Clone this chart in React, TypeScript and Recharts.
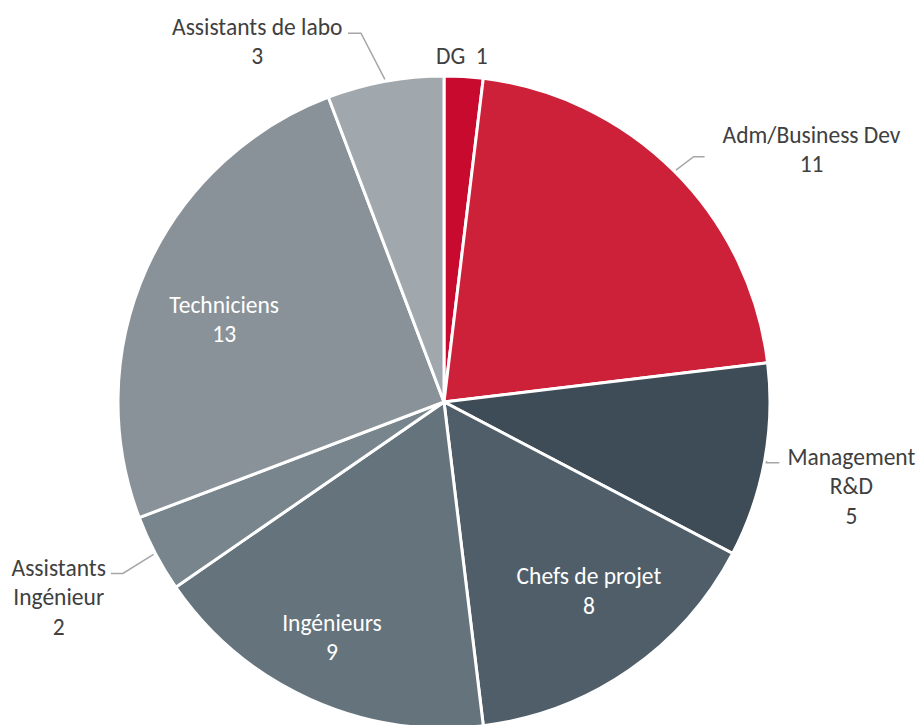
import { PieChart, Pie, Cell } from "recharts";

const categories = [
  "DG",
  "Adm/Business Dev",
  "Management R&D",
  "Chefs de projet",
  "Ingénieurs",
  "Assistants Ingénieur",
  "Techniciens",
  "Assistants de labo",
];
const headcount = [1, 11, 5, 8, 9, 2, 13, 3];
// how each label is broken over lines
const labelLines = [
  ["DG\u00a0\u00a01"],
  ["Adm/Business Dev", "11"],
  ["Management", "R&D", "5"],
  ["Chefs de projet", "8"],
  ["Ingénieurs", "9"],
  ["Assistants", "Ingénieur", "2"],
  ["Techniciens", "13"],
  ["Assistants de labo", "3"],
];

const colors = [
  "#C80A2E",
  "#CC2139",
  "#3E4C57",
  "#4F5E68",
  "#65737C",
  "#78858D",
  "#8A9299",
  "#A0A7AD",
];

// label placement: angle shift (deg), distance from outer edge (px), inside fraction
type Place = {
  inside?: number;
  dA: number;
  dR?: number;
  leader?: { dA: number; dR: number; h: number };
};
const placement: Place[] = [
  { dA: -0.5, dR: 20 },
  { dA: 10.5, dR: 120, leader: { dA: 0.5, dR: 24, h: 11 } },
  { dA: 1.3, dR: 90, leader: { dA: 0.3, dR: 2, h: 13 } },
  { dA: -2.9, inside: 0.73 },
  { dA: 1.2, inside: 0.8 },
  { dA: 0.8, dR: 106, leader: { dA: -0.4, dR: 38, h: -12 } },
  { dA: -3.7, inside: 0.72 },
  { dA: -17, dR: 80, leader: { dA: -2.3, dR: 52, h: -13 } },
];

const data = categories.map((name, i) => ({ name, value: headcount[i] }));

const FONT = "Carlito, Lato, 'Open Sans', sans-serif";
const LINE_H = 29.5;

function polar(cx: number, cy: number, theta: number, d: number) {
  const rad = (theta * Math.PI) / 180;
  return { x: cx + d * Math.sin(rad), y: cy - d * Math.cos(rad) };
}

function renderLabel(props: any) {
  const { cx, cy, midAngle, outerRadius, index } = props;
  const p = placement[index];
  const theta = 90 - midAngle;
  const dist = p.inside ? outerRadius * p.inside : outerRadius + (p.dR || 0);
  const c = polar(cx, cy, theta + p.dA, dist);
  const lines = labelLines[index];
  const top = c.y - ((lines.length - 1) * LINE_H) / 2;
  let leader = null;
  if (p.leader) {
    const s = polar(cx, cy, theta, outerRadius + 2);
    const e = polar(cx, cy, theta + p.leader.dA, outerRadius + p.leader.dR);
    leader = (
      <polyline
        points={`${s.x},${s.y} ${e.x},${e.y} ${e.x + p.leader.h},${e.y}`}
        fill="none"
        stroke="#A6A6A6"
        strokeWidth={1.5}
      />
    );
  }
  return (
    <g key={`lbl-${index}`}>
      {leader}
      <text
        x={c.x}
        y={top}
        textAnchor="middle"
        fill={p.inside ? "#FFFFFF" : "#404040"}
        fontFamily={FONT}
        fontSize={23.5}
      >
        {lines.map((t, j) => (
          <tspan key={j} x={c.x} y={top + j * LINE_H} dominantBaseline="central">
            {t}
          </tspan>
        ))}
      </text>
    </g>
  );
}

export default function App() {
  return (
    <div style={{ position: "absolute", left: 0, top: 0, background: "#fff" }}>
      <PieChart
        width={919}
        height={725}
        margin={{ top: 0, right: 0, bottom: 0, left: 0 }}
      >
        <Pie
          data={data}
          dataKey="value"
          nameKey="name"
          cx={444}
          cy={402}
          outerRadius={326}
          startAngle={90}
          endAngle={-270}
          stroke="#FFFFFF"
          strokeWidth={3}
          label={renderLabel}
          labelLine={false}
          isAnimationActive={false}
        >
          {data.map((d, i) => (
            <Cell key={d.name} fill={colors[i]} />
          ))}
        </Pie>
      </PieChart>
    </div>
  );
}
